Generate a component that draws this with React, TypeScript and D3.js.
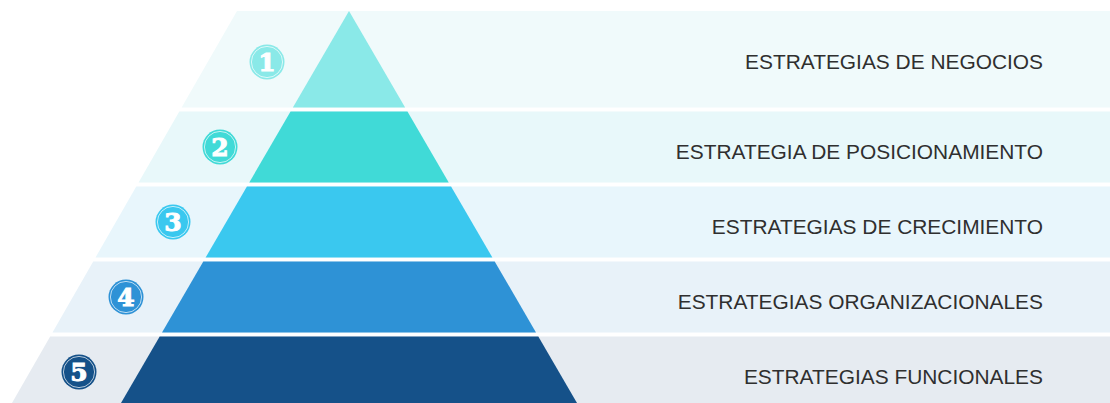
import React from "react";
import * as d3 from "d3";

const labels = [
  "ESTRATEGIAS DE NEGOCIOS",
  "ESTRATEGIA DE POSICIONAMIENTO",
  "ESTRATEGIAS DE CRECIMIENTO",
  "ESTRATEGIAS ORGANIZACIONALES",
  "ESTRATEGIAS FUNCIONALES",
];
const levels = ["1", "2", "3", "4", "5"];
const pyramidColors = ["#8AE9E8", "#40DAD7", "#3AC8EF", "#2E92D6", "#155189"];
const bandColors = ["#F0FAFB", "#E8F8FA", "#E8F6FC", "#E8F2F9", "#E6EBF1"];

const W = 1110;
const H = 403;

export default function App() {
  const apexY = 11;
  const baseY = 403;
  const idx = d3.range(levels.length);
  // vertical layout of rows
  const top = (i: number) => (i === 0 ? apexY : 36.5 + 75 * i);
  const bottom = (i: number) => Math.min(107.5 + 75 * i, H);
  const rowCenter = (i: number) => (i === 0 ? 62 : 72 + 75 * i);

  const half = d3.scaleLinear().domain([apexY, baseY]).range([0, 228]);
  const cx = 349;
  const bgLeft = d3.scaleLinear().domain([apexY, baseY]).range([237, 12]);
  const badgeX = d3.scaleLinear().domain([0, 4]).range([267, 79]);

  const trap = (yt: number, yb: number, xl: (y: number) => number, xr: (y: number) => number) => {
    const line = d3.line();
    return line([
      [xl(yt), yt],
      [xr(yt), yt],
      [xr(yb), yb],
      [xl(yb), yb],
    ]) + "Z";
  };

  return (
    <svg
      width={W}
      height={H}
      style={{ position: "absolute", left: 0, top: 0, background: "#fff" }}
    >
      {idx.map((i) => (
        <path
          key={"bg" + i}
          d={trap(top(i), bottom(i), bgLeft, () => W)}
          fill={bandColors[i]}
        />
      ))}
      {idx.map((i) => (
        <path
          key={"py" + i}
          d={trap(
            top(i),
            bottom(i),
            (y) => cx - half(y),
            (y) => cx + half(y)
          )}
          fill={pyramidColors[i]}
        />
      ))}
      {idx.map((i) => (
        <g key={"badge" + i} transform={`translate(${badgeX(i)},${rowCenter(i)})`}>
          <circle r={17.5} fill={pyramidColors[i]} />
          <circle r={15.6} fill="none" stroke="#fff" strokeOpacity={0.75} strokeWidth={0.9} />
          <text
            y={9}
            textAnchor="middle"
            fontFamily="'DejaVu Serif', serif"
            fontWeight="bold"
            fontSize={25}
            fill="#fff"
            stroke="#fff"
            strokeWidth={1}
          >
            {levels[i]}
          </text>
        </g>
      ))}
      {idx.map((i) => (
        <text
          key={"lbl" + i}
          x={1043}
          y={rowCenter(i) + (i === 0 ? 0 : 4.5) + 7.4}
          textAnchor="end"
          fontFamily="'Liberation Sans', Arial, sans-serif"
          fontSize={20.9}
          fill="#2f2f2f"
        >
          {labels[i]}
        </text>
      ))}
    </svg>
  );
}
